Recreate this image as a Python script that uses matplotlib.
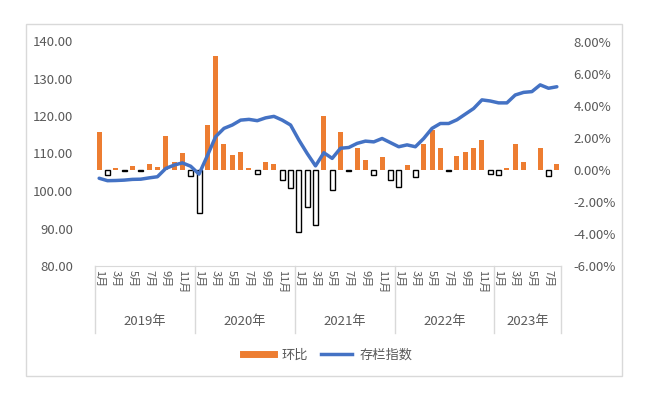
import numpy as np
import matplotlib
matplotlib.use("Agg")
import matplotlib.pyplot as plt
from matplotlib.lines import Line2D
import matplotlib.transforms as mtransforms

plt.rcParams['font.family'] = ['Noto Sans CJK SC', 'DejaVu Sans']

years = ['2019年', '2020年', '2021年', '2022年', '2023年']
months_per_year = [12, 12, 12, 12, 8]

# 环比 (%)
mom = [2.4, -0.3, 0.15, -0.08, 0.25, -0.08, 0.4, 0.2, 2.1, 0.5, 1.05, -0.4,
       -2.7, 2.8, 7.1, 1.65, 0.95, 1.1, 0.1, -0.25, 0.5, 0.4, -0.6, -1.1,
       -3.9, -2.3, -3.45, 3.4, -1.25, 2.4, -0.08, 1.4, 0.6, -0.3, 0.8, -0.65,
       -1.05, 0.3, -0.45, 1.65, 2.5, 1.4, -0.08, 0.85, 1.1, 1.4, 1.9, -0.25,
       -0.3, 0.15, 1.6, 0.5, 0.03, 1.4, -0.4, 0.35]

# 存栏指数
index = [103.4, 102.75, 102.8, 102.9, 103.1, 103.15, 103.5, 103.8, 106.0, 106.9, 107.5, 106.6,
         104.5, 109.4, 114.5, 116.7, 117.6, 118.9, 119.1, 118.75, 119.5, 119.9, 118.9, 117.6,
         113.6, 110.0, 106.7, 110.2, 108.7, 111.4, 111.6, 112.7, 113.3, 113.1, 114.0, 112.9,
         111.8, 112.3, 111.8, 114.0, 116.7, 118.0, 118.0, 119.0, 120.5, 122.0, 124.3, 124.0,
         123.5, 123.5, 125.6, 126.3, 126.5, 128.3, 127.4, 127.8]

month_labels = []
for n in months_per_year:
    month_labels += ['%d月' % (m + 1) for m in range(n)]

orange = '#ED7D31'
blue = '#4472C4'
gray = '#595959'

W, H = 647, 395
fig = plt.figure(figsize=(W / 100, H / 100), dpi=100)
# chart frame
fig.patches.append(plt.Rectangle((26 / W, 1 - 376 / H), 596 / W, 352 / H,
                                 transform=fig.transFigure, fill=False,
                                 edgecolor='#D9D9D9', linewidth=1))

ax_l, ax_r, ax_t, ax_b = 95, 561, 41, 266
ax1 = fig.add_axes([ax_l / W, 1 - ax_b / H, (ax_r - ax_l) / W, (ax_b - ax_t) / H])
ax2 = ax1.twinx()

x = np.arange(len(mom))
vals = np.array(mom)
ax2.bar(x[vals >= 0], vals[vals >= 0], width=0.6, color=orange, linewidth=0)
ax2.bar(x[vals < 0], vals[vals < 0], width=0.6, facecolor='white',
        edgecolor='black', linewidth=1)

# line on top of the bars
ax1.set_zorder(ax2.get_zorder() + 1)
ax1.patch.set_visible(False)
ax1.plot(x, index, color=blue, linewidth=2.5, solid_joinstyle='round',
         solid_capstyle='round')

ax1.set_xlim(-0.5, len(mom) - 0.5)
ax1.set_ylim(80, 140)
ax1.set_yticks(np.arange(80, 141, 10))
ax1.set_yticklabels(['%.2f' % v for v in np.arange(80, 141, 10)])
ax2.set_ylim(-6, 8.06)
ax2.set_yticks(np.arange(-6, 9, 2))
ax2.set_yticklabels(['%.2f%%' % v for v in np.arange(-6, 9, 2)])

for ax in (ax1, ax2):
    for s in ax.spines.values():
        s.set_visible(False)
    ax.tick_params(axis='y', length=0, labelsize=9.5, labelcolor=gray)
ax1.tick_params(axis='y', pad=16)
ax2.tick_params(axis='y', pad=9)

ax1.spines['bottom'].set_visible(True)
ax1.spines['bottom'].set_color('#D9D9D9')

tick_pos = x[::2]
ax1.set_xticks(tick_pos)
ax1.set_xticklabels([month_labels[i] for i in tick_pos], rotation=-90,
                    fontsize=8, color=gray, va='top', ha='center')
ax1.tick_params(axis='x', length=0, pad=3)

# year groups under the month labels
trans = mtransforms.blended_transform_factory(ax1.transData, ax1.transAxes)
edges = np.concatenate([[0], np.cumsum(months_per_year)]) - 0.5
for e in edges:
    ax1.add_line(Line2D([e, e], [0, -0.298], transform=trans, color='#D9D9D9',
                        linewidth=1, clip_on=False))
for i, yr in enumerate(years):
    c = (edges[i] + edges[i + 1]) / 2
    ax1.text(c, -0.248, yr, transform=trans, ha='center', va='center',
             fontsize=9.5, color=gray)

handles = [Line2D([], [], color=orange, linewidth=5),
           Line2D([], [], color=blue, linewidth=2.5)]
fig.legend(handles, ['环比', '存栏指数'], loc='center', ncol=2,
           bbox_to_anchor=(328 / W, 1 - 355 / H), frameon=False,
           fontsize=9.5, labelcolor=gray, handlelength=2.3,
           handletextpad=0.6, columnspacing=1.0)

fig.savefig('out.png', dpi=100)
